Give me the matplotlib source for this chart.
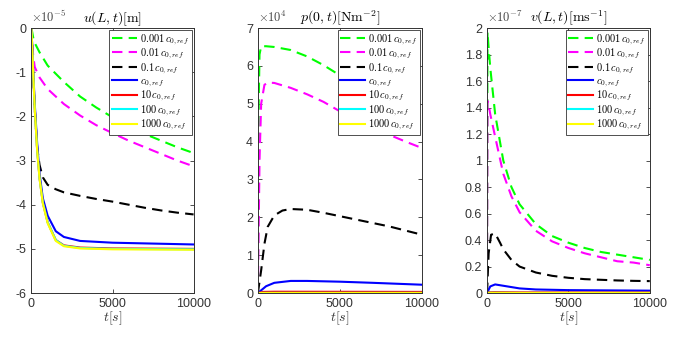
import matplotlib.pyplot as plt
from matplotlib.ticker import MultipleLocator, FormatStrFormatter

plt.rcParams['mathtext.fontset'] = 'cm'
plt.rcParams['axes.unicode_minus'] = False
plt.rcParams['font.family'] = ['Liberation Sans', 'DejaVu Sans']

labels = [r'$0.001\,c_{0,ref}$', r'$0.01\,c_{0,ref}$', r'$0.1\,c_{0,ref}$',
          r'$c_{0,ref}$', r'$10\,c_{0,ref}$', r'$100\,c_{0,ref}$', r'$1000\,c_{0,ref}$']
colors = ['#00ff00', '#ff00ff', 'black', '#0000ff', '#ff0000', '#00ffff', '#ffff00']
styles = ['--', '--', '--', '-', '-', '-', '-']

# u(L,t) in 1e-5 m
u_t = {
    '0.001': ([0, 150, 500, 1000, 2000, 3000, 4000, 5000, 6000, 7000, 8000, 9000, 10000],
              [0, -0.3, -0.55, -0.85, -1.22, -1.55, -1.8, -2.02, -2.22, -2.4, -2.55, -2.7, -2.83]),
    '0.01': ([0, 100, 200, 500, 1000, 2000, 3000, 4000, 5000, 6000, 7000, 8000, 9000, 10000],
             [0, -0.6, -0.88, -1.12, -1.38, -1.72, -1.98, -2.2, -2.38, -2.55, -2.7, -2.85, -3.0, -3.13]),
    '0.1': ([0, 100, 200, 350, 500, 700, 1000, 1500, 2000, 3000, 4000, 5000, 6000, 7000, 8000, 9000, 10000],
            [0, -1.0, -1.8, -2.7, -3.1, -3.38, -3.55, -3.65, -3.72, -3.8, -3.87, -3.93, -4.0, -4.07, -4.13, -4.18, -4.22]),
    '1': ([0, 100, 200, 350, 500, 700, 1000, 1500, 2000, 3000, 5000, 7500, 10000],
          [0, -0.9, -1.7, -2.6, -3.3, -3.85, -4.25, -4.6, -4.73, -4.82, -4.86, -4.88, -4.9]),
    '10': ([0, 100, 200, 350, 500, 700, 1000, 1500, 2000, 3000, 5000, 10000],
           [0, -0.95, -1.8, -2.75, -3.4, -3.95, -4.4, -4.8, -4.92, -4.97, -4.99, -5.0]),
    '100': ([0, 100, 200, 350, 500, 700, 1000, 1500, 2000, 3000, 5000, 10000],
            [0, -0.95, -1.8, -2.75, -3.4, -3.95, -4.4, -4.8, -4.93, -4.98, -5.0, -5.01]),
    '1000': ([0, 100, 200, 350, 500, 700, 1000, 1500, 2000, 3000, 5000, 10000],
             [0, -0.96, -1.82, -2.77, -3.42, -3.97, -4.42, -4.82, -4.94, -4.99, -5.01, -5.02]),
}

# p(0,t) in 1e4 N/m^2
p_t = {
    '0.001': ([0, 50, 100, 200, 500, 1000, 2000, 3000, 4000, 5000, 6000, 7000, 8000, 9000, 10000],
              [0, 5.0, 6.3, 6.52, 6.52, 6.5, 6.42, 6.25, 6.02, 5.75, 5.45, 5.15, 4.9, 4.65, 4.4]),
    '0.01': ([0, 100, 200, 400, 600, 1000, 2000, 3000, 4000, 5000, 6000, 7000, 8000, 9000, 10000],
             [0, 3.5, 5.0, 5.5, 5.56, 5.55, 5.42, 5.25, 5.05, 4.8, 4.58, 4.38, 4.18, 4.0, 3.83]),
    '0.1': ([0, 200, 400, 600, 1000, 1500, 2000, 3000, 4000, 5000, 6000, 7000, 8000, 9000, 10000],
            [0, 0.6, 1.3, 1.75, 2.05, 2.18, 2.22, 2.2, 2.12, 2.03, 1.94, 1.85, 1.76, 1.65, 1.54]),
    '1': ([0, 500, 1000, 2000, 3000, 5000, 7000, 10000],
          [0, 0.18, 0.27, 0.32, 0.32, 0.3, 0.27, 0.22]),
    '10': ([0, 300, 1000, 5000, 10000],
           [0, 0.03, 0.035, 0.033, 0.03]),
    '100': ([0, 300, 1000, 5000, 10000],
            [0, 0.005, 0.005, 0.005, 0.005]),
    '1000': ([0, 300, 1000, 5000, 10000],
             [0, 0.001, 0.001, 0.001, 0.001]),
}

# v(L,t) in 1e-7 m/s
v_t = {
    '0.001': ([0, 30, 100, 200, 500, 1000, 1500, 2000, 3000, 4000, 5000, 6000, 7000, 8000, 9000, 10000],
              [0, 1.97, 1.85, 1.7, 1.35, 1.0, 0.8, 0.67, 0.52, 0.43, 0.38, 0.34, 0.31, 0.29, 0.27, 0.25]),
    '0.01': ([0, 30, 100, 200, 500, 1000, 1500, 2000, 3000, 4000, 5000, 6000, 7000, 8000, 9000, 10000],
             [0, 1.45, 1.42, 1.35, 1.18, 0.9, 0.73, 0.61, 0.47, 0.39, 0.34, 0.3, 0.27, 0.24, 0.23, 0.21]),
    '0.1': ([0, 100, 250, 500, 800, 1000, 1500, 2000, 3000, 4000, 5000, 6000, 7000, 8000, 9000, 10000],
            [0, 0.3, 0.44, 0.45, 0.38, 0.33, 0.25, 0.2, 0.155, 0.13, 0.115, 0.105, 0.1, 0.095, 0.092, 0.09]),
    '1': ([0, 200, 500, 1000, 2000, 3000, 5000, 10000],
          [0, 0.05, 0.065, 0.055, 0.035, 0.027, 0.022, 0.018]),
    '10': ([0, 100, 500, 2000, 10000],
           [0, 0.006, 0.007, 0.005, 0.004]),
    '100': ([0, 100, 500, 2000, 10000],
            [0, 0.002, 0.002, 0.001, 0.001]),
    '1000': ([0, 100, 500, 2000, 10000],
             [0, 0.001, 0.001, 0.0005, 0.0005]),
}

panels = [
    (u_t, r'$\times10^{-5}$', (-6, 0), 1, r'$u(L,t)[\mathrm{m}]$', [0.046, 0.133, 0.237, 0.784]),
    (p_t, r'$\times10^{4}$', (0, 7), 1, r'$p(0,t)[\mathrm{Nm}^{-2}]$', [0.377, 0.133, 0.240, 0.784]),
    (v_t, r'$\times10^{-7}$', (0, 2), 0.2, r'$v(L,t)[\mathrm{ms}^{-1}]$', [0.712, 0.133, 0.238, 0.784]),
]

fig = plt.figure(figsize=(6.84, 3.38), dpi=100)
for data, mult, ylim, step, title, pos in panels:
    ax = fig.add_axes(pos)
    for key, lab, c, ls in zip(data.keys(), labels, colors, styles):
        t, y = data[key]
        if ls == '--':
            ax.plot(t, y, color=c, lw=1.5, label=lab, linestyle='--', dashes=(5, 3))
        else:
            ax.plot(t, y, color=c, lw=1.5, label=lab)
    ax.set_xlim(0, 10000)
    ax.set_ylim(*ylim)
    ax.set_xticks([0, 5000, 10000])
    ax.yaxis.set_major_locator(MultipleLocator(step))
    ax.yaxis.set_major_formatter(FormatStrFormatter('%g'))
    ax.tick_params(direction='in', top=True, right=True, labelsize=9,
                   colors='#333333', length=3, width=0.6)
    for s in ax.spines.values():
        s.set_color('#333333')
        s.set_linewidth(0.7)
    ax.text(0.0, 1.012, mult, transform=ax.transAxes, fontsize=9, color='#444444',
            ha='left', va='bottom')
    ax.set_title(title, fontsize=10, pad=4)
    ax.set_xlabel(r'$t[s]$', fontsize=10, labelpad=0, color='#333333')
    leg = ax.legend(loc='upper right', fontsize=7.5, labelspacing=0.02, handlelength=2.4,
                    handletextpad=0.3, borderpad=0.25, borderaxespad=0.15,
                    fancybox=False, framealpha=1, edgecolor='#333333')
    leg.get_frame().set_linewidth(0.6)

fig.savefig('out.png', dpi=100)
